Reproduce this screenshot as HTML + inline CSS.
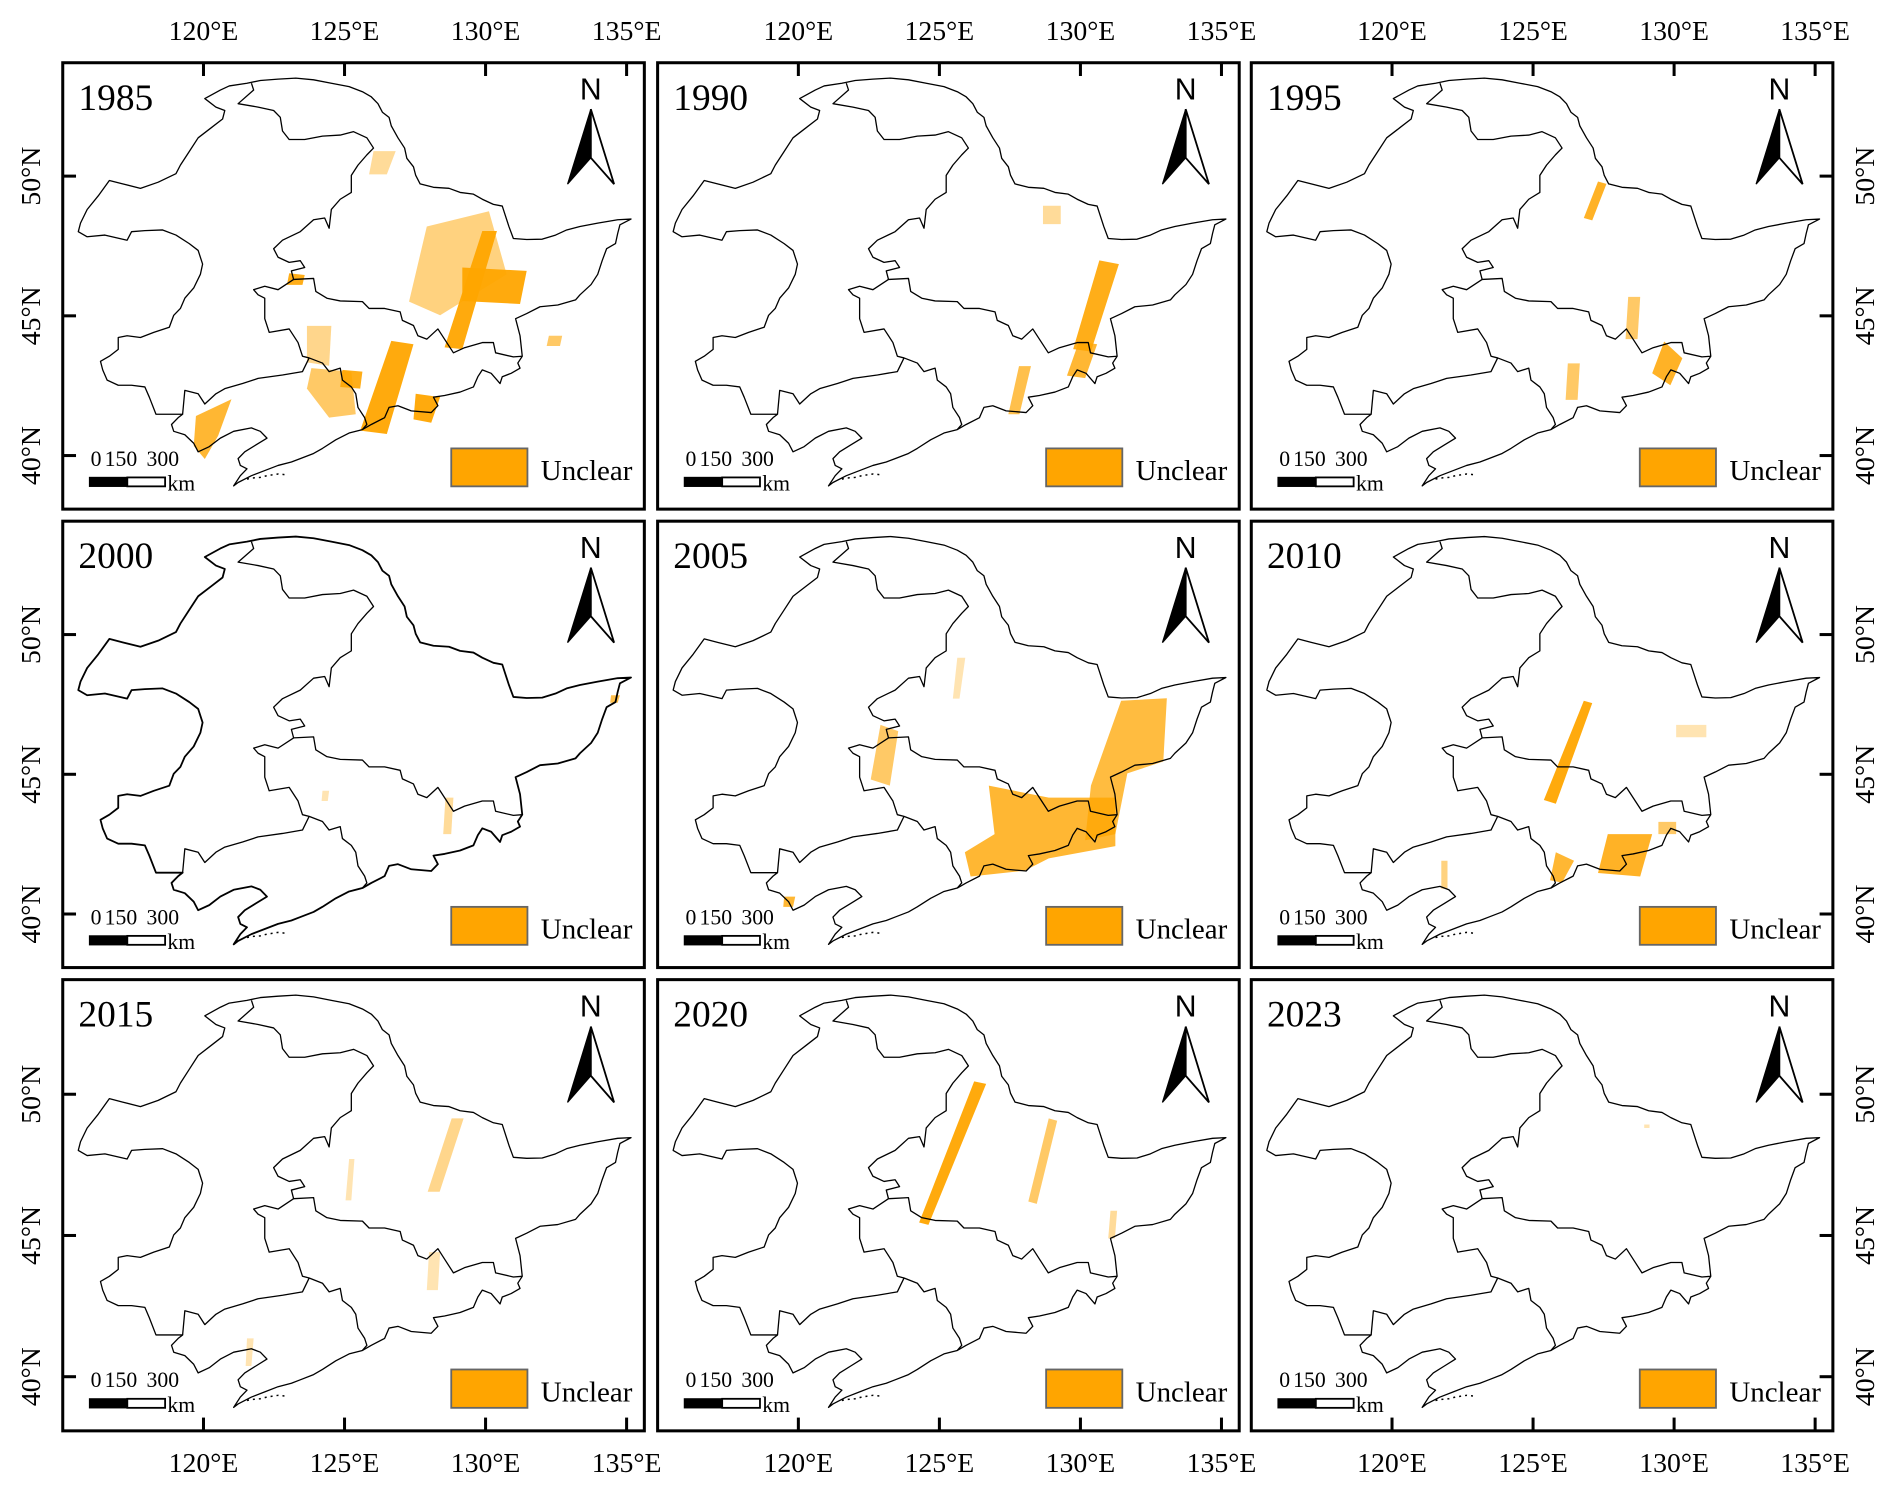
<!DOCTYPE html>
<html><head><meta charset="utf-8"><title>Unclear areas in Northeast China, 1985–2023</title>
<style>
html,body{margin:0;padding:0;background:#fff;}
svg{display:block;font-family:"Liberation Serif",serif;}
</style></head>
<body>
<svg id="fig" xmlns="http://www.w3.org/2000/svg" width="1892" height="1496" viewBox="0 0 1568 1240" preserveAspectRatio="none"></svg>
<script>
// ---- data ----
const years = ['1985','1990','1995','2000','2005','2010','2015','2020','2023'];
const lonTicks = [120,125,130,135];
const latTicks = [50,45,40];
const lonLabels = ['120°E','125°E','130°E','135°E'];
const latLabels = ['50°N','45°N','40°N'];
const scaleLabels = ['0','150','300'];
// unclear patches per year: [opacity, x1,y1, x2,y2, ...] in map frame units
const patches1985 = [
 [0.5, 935,560, 1075,515, 1115,700, 965,820, 895,780],
 [0.95, 1060,573, 1093,573, 1015,919, 975,914],
 [0.95, 1015,680, 1160,690, 1145,787, 1015,778],
 [0.95, 855,895, 905,905, 845,1168, 785,1158],
 [0.9, 745,980, 790,985, 785,1035, 740,1030],
 [0.6, 675,975, 765,985, 775,1110, 715,1120, 665,1035],
 [0.95, 910,1050, 965,1060, 945,1135, 905,1125],
 [0.8, 415,1115, 495,1066, 465,1173, 435,1241, 410,1203],
 [0.4, 815,339, 865,339, 845,407, 805,407],
 [0.9, 625,697, 660,702, 655,731, 620,731],
 [0.45, 665,851, 720,851, 715,968, 665,958],
 [0.6, 1210,880, 1240,880, 1235,910, 1205,910]
];
const patches1990 = [
 [0.9, 1110,659, 1154,670, 1091,926, 1051,919],
 [0.8, 1064,897, 1105,905, 1078,1004, 1037,997],
 [0.7, 929,969, 956,969, 930,1110, 905,1110],
 [0.4, 983,499, 1023,499, 1023,553, 983,553]
];
const patches1995 = [
 [0.85, 896,428, 915,435, 883,542, 864,535],
 [0.6, 964,766, 991,766, 985,890, 958,890],
 [0.85, 1045,897, 1086,946, 1059,1025, 1018,990],
 [0.6, 828,961, 855,961, 850,1068, 823,1068]
];
const patches2000 = [
 [0.7, 1350,590, 1370,590, 1365,612, 1348,612],
 [0.4, 977,890, 995,890, 990,997, 972,997],
 [0.3, 700,870, 715,870, 712,900, 698,900]
];
const patches2005 = [
 [0.75, 1159,606, 1262,599, 1254,784, 1173,819, 1146,997, 1078,1015, 1091,855],
 [0.8, 861,855, 996,890, 1146,890, 1146,1032, 996,1068, 942,1104, 820,1121, 807,1050, 874,997],
 [0.6, 617,677, 657,695, 638,855, 595,837],
 [0.3, 790,480, 808,480, 795,600, 780,600],
 [0.8, 400,1180, 425,1180, 420,1210, 398,1210]
];
const patches2010 = [
 [0.95, 864,606, 883,613, 801,908, 774,897],
 [0.85, 918,997, 1018,997, 991,1121, 896,1111],
 [0.8, 801,1050, 842,1075, 815,1139, 788,1132],
 [0.6, 1032,961, 1072,961, 1072,997, 1032,997],
 [0.3, 1072,677, 1140,677, 1140,713, 1072,713],
 [0.5, 543,1075, 557,1075, 557,1157, 543,1157]
];
const patches2015 = [
 [0.45, 991,482, 1018,482, 964,695, 937,695],
 [0.3, 760,600, 772,600, 765,720, 752,720],
 [0.3, 940,870, 965,870, 960,980, 935,980],
 [0.3, 530,1120, 545,1120, 540,1200, 527,1200]
];
const patches2020 = [
 [0.95, 828,375, 855,382, 725,791, 704,784],
 [0.6, 996,482, 1015,489, 969,730, 950,723],
 [0.4, 1135,750, 1150,750, 1145,830, 1130,830]
];
const patches2023 = [
 [0.3, 1000,500, 1012,500, 1012,510, 1000,510]
];
const allPatches = [patches1985,patches1990,patches1995,patches2000,patches2005,patches2010,patches2015,patches2020,patches2023];

// ---- geometry (outline in map frame units) ----
const outer = [435,185,470,160,490,148,530,140,560,132,600,128,640,125,680,130,720,140,760,150,790,165,810,180,825,200,835,225,850,240,855,265,870,300,885,330,890,360,905,385,910,410,920,435,950,445,985,448,1010,460,1040,465,1060,480,1085,495,1105,500,1110,520,1120,560,1130,595,1160,598,1195,597,1225,585,1250,570,1280,560,1320,550,1365,540,1395,538,1370,555,1365,580,1360,610,1340,625,1330,660,1320,700,1305,730,1280,760,1270,775,1230,790,1190,795,1160,815,1135,830,1145,880,1150,940,1140,960,1145,975,1125,990,1105,1000,1100,1020,1080,990,1060,980,1050,1000,1040,1030,1010,1045,975,1055,950,1060,960,1085,945,1105,900,1100,870,1085,850,1090,840,1120,810,1140,790,1155,760,1165,730,1185,700,1210,680,1225,650,1240,630,1250,600,1260,570,1275,540,1290,510,1310,500,1320,515,1290,530,1270,515,1260,510,1240,525,1220,550,1200,575,1180,560,1160,540,1150,500,1160,470,1180,445,1205,420,1220,410,1195,390,1170,365,1160,360,1140,375,1120,385,1110,355,1110,325,1110,310,1060,300,1030,270,1025,240,1025,215,1010,205,980,200,955,220,940,240,920,240,885,260,880,290,885,320,870,355,855,365,820,380,800,390,770,410,740,425,700,430,670,420,630,400,610,370,585,340,570,300,572,270,575,260,600,210,585,170,590,150,575,155,550,170,510,195,470,220,425,250,435,290,448,330,430,370,405,380,380,400,340,420,300,450,270,475,245,480,220,460,210,435,185];
const border1 = [540,140,545,160,510,200,555,210,590,220,605,240,610,280,625,305,660,305,700,295,740,292,770,282,800,300,815,330,800,350,780,380,765,410,765,460,740,480,720,510,715,565,705,535,680,540,650,575,610,600,590,625,600,650,625,665,650,660,660,680,630,690,635,715,680,712,685,750,710,770,740,778,790,780,805,800,840,800,875,810,880,835,905,850,915,880,935,890,960,860,975,890,995,930,1020,915,1060,900,1085,900,1090,930,1130,942,1150,940];
const border2 = [635,715,600,745,570,735,545,745,555,760,570,770,570,830,580,870,625,860,645,900,655,940,670,945,700,960,715,985,740,975,745,1010,765,1030,775,1050,780,1090,795,1120,800,1140,790,1155];
const border3 = [670,945,655,985,610,995,555,1005,520,1020,480,1035,460,1050,435,1080,420,1050,390,1040,385,1110];
const islands = [530,1300,540,1297,560,1295,575,1290,600,1285,615,1287];

const NS='http://www.w3.org/2000/svg';
const svg=document.getElementById('fig');
function mk(tag,attrs,parent){const e=document.createElementNS(NS,tag);for(const k in attrs)e.setAttribute(k,attrs[k]);(parent||svg).appendChild(e);return e;}
function pts(a){let s='';for(let i=0;i<a.length;i+=2)s+=a[i]+','+a[i+1]+' ';return s;}

const colL=[52,545,1037], rowT=[52,432,812], rowH=[370,370,374], PW=482;
function lonU(lon){return 0.242+(lon-120)*0.0485;}
function latV(lat){return 0.254+(50-lat)*0.0626;}

years.forEach((yr,idx)=>{
  const c=idx%3, r=Math.floor(idx/3);
  const L=colL[c], T=rowT[r], PH=rowH[r];
  const g=mk('g',{});
  
  
  const m=mk('g',{transform:`translate(${L},${T}) scale(${PW/1310},${PH/1308}) translate(-115,-80)`},g);
  
  
  const land=mk('polygon',{points:pts(outer),fill:'#fff',stroke:'none'},m);
  
  
  allPatches[idx].forEach((p,pi)=>{
    const e=mk('polygon',{points:pts(p.slice(1)),fill:'#FFA500','fill-opacity':p[0],stroke:'none'},m);
    
    
  });
  const ol=mk('polygon',{points:pts(outer),fill:'none',stroke:'#000','stroke-width':yr==='2000'?1.8:1.3,'vector-effect':'non-scaling-stroke','stroke-linejoin':'round'},m);
  
  
  [border1,border2,border3].forEach((b,bi)=>{
    const e=mk('polyline',{points:pts(b),fill:'none',stroke:'#000','stroke-width':1.3,'vector-effect':'non-scaling-stroke','stroke-linejoin':'round'},m);
    
    
  });
  const isl=mk('polyline',{points:pts(islands),fill:'none',stroke:'#000','stroke-width':1.5,'stroke-dasharray':'2 4','vector-effect':'non-scaling-stroke'},m);
  
  
  const fr=mk('rect',{x:L,y:T,width:PW,height:PH,fill:'none',stroke:'#000','stroke-width':2.5},g);
  
  
  const yl=mk('text',{x:L+13,y:T+39,'font-size':31,fill:'#000'},g);
  yl.textContent=yr;
  
  
  const nt=mk('text',{x:L+PW*0.908,y:T+PH*0.082,'font-size':25,'text-anchor':'middle',fill:'#000','font-family':'Liberation Sans, sans-serif'},g);
  nt.textContent='N';
  
  
  const ax=L+PW*0.908, at=T+PH*0.104, ab=T+PH*0.272, an=T+PH*0.213;
  const na1=mk('polygon',{points:`${ax},${at} ${L+PW*0.868},${ab} ${ax},${an}`,fill:'#000',stroke:'#000','stroke-width':1},g);
  
  
  const na2=mk('polygon',{points:`${ax},${at} ${L+PW*0.948},${ab} ${ax},${an}`,fill:'#fff',stroke:'#000','stroke-width':1.5},g);
  
  
  const sx=[0.048,0.1,0.172];
  scaleLabels.forEach((s,si)=>{
    const t=mk('text',{x:L+PW*sx[si],y:T+PH*0.903,'font-size':18,'text-anchor':si?'middle':'start',fill:'#000'},g);
    t.textContent=s;
    
    
  });
  const sb1=mk('rect',{x:L+PW*0.046,y:T+PH*0.929,width:PW*0.065,height:PH*0.02,fill:'#000',stroke:'#000','stroke-width':1},g);
  
  
  const sb2=mk('rect',{x:L+PW*0.111,y:T+PH*0.929,width:PW*0.065,height:PH*0.02,fill:'#fff',stroke:'#000','stroke-width':1.5},g);
  
  
  const km=mk('text',{x:L+PW*0.18,y:T+PH*0.958,'font-size':18,fill:'#000'},g);
  km.textContent='km';
  
  
  const lb=mk('rect',{x:L+PW*0.668,y:T+PH*0.864,width:PW*0.131,height:PH*0.085,fill:'#FFA500',stroke:'#666','stroke-width':1.5},g);
  
  
  const lt=mk('text',{x:L+PW*0.822,y:T+PH*0.935,'font-size':24,fill:'#000'},g);
  lt.textContent='Unclear';
  
  
  if(r===0||r===2){
    lonTicks.forEach((lon,li)=>{
      const x=L+PW*lonU(lon);
      const y0=r===0?T:T+PH, y1=r===0?T+11:T+PH-11;
      const tk=mk('line',{x1:x,y1:y0,x2:x,y2:y1,stroke:'#000','stroke-width':2.5},g);
      
      
      const tl=mk('text',{x:x,y:r===0?T-19:T+PH+34,'font-size':23,'text-anchor':'middle',fill:'#000'},g);
      tl.textContent=lonLabels[li];
      
      
    });
  }
  if(c===0||c===2){
    latTicks.forEach((lat,li)=>{
      const y=T+PH*latV(lat);
      const x0=c===0?L:L+PW, x1=c===0?L+11:L+PW-11;
      const tk=mk('line',{x1:x0,y1:y,x2:x1,y2:y,stroke:'#000','stroke-width':2.5},g);
      
      
      const tx=c===0?L-19:L+PW+34;
      const tl=mk('text',{x:tx,y:y,'font-size':23,'text-anchor':'middle',fill:'#000',transform:`rotate(-90 ${tx} ${y})`},g);
      tl.textContent=latLabels[li];
      
      
    });
  }
});
</script>
</body></html>
